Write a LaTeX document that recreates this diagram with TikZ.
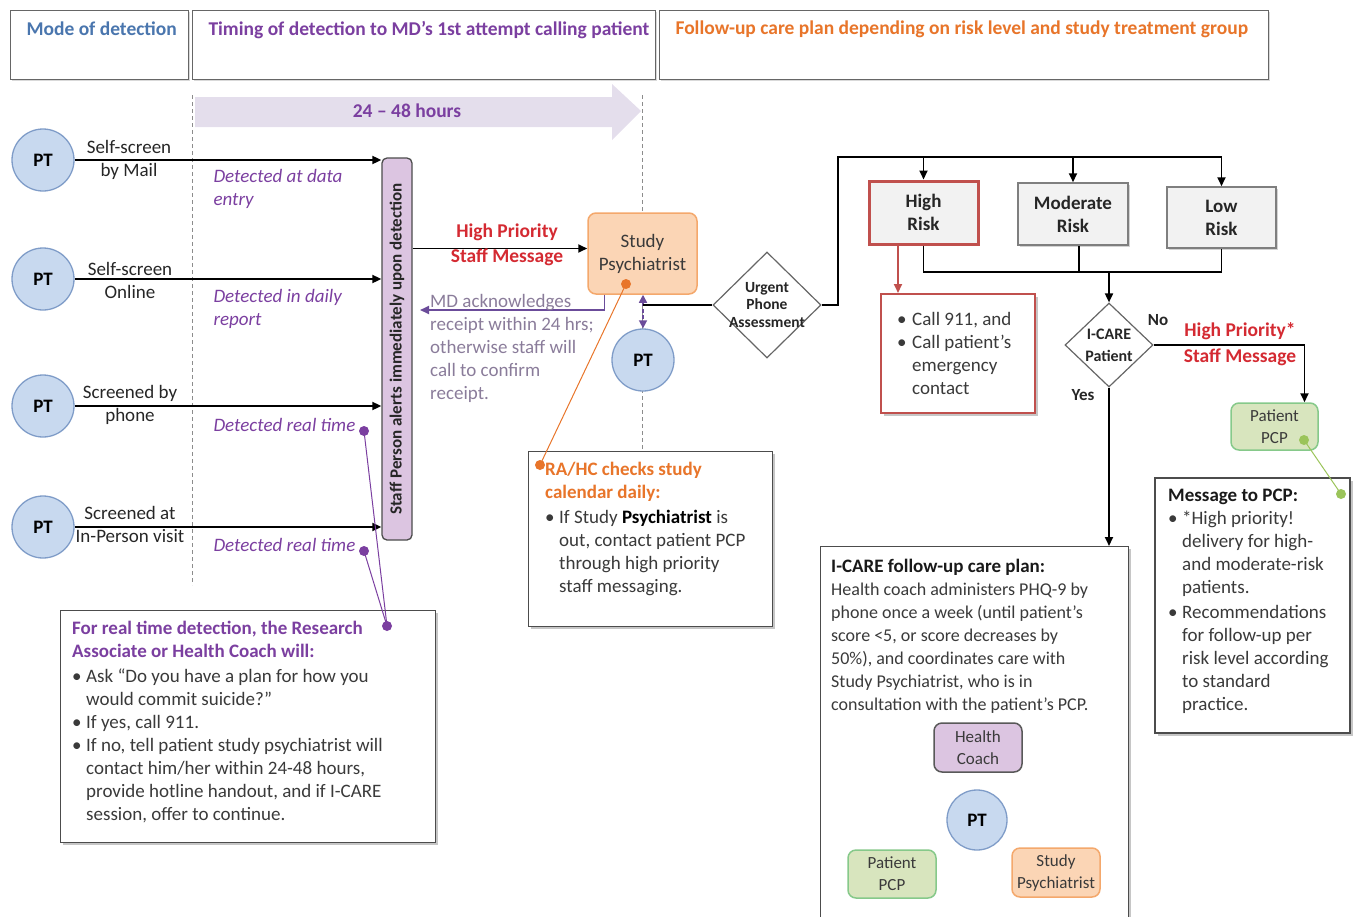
\documentclass[tikz,border=0pt]{standalone}
\usepackage{fontspec}
\setmainfont{Carlito}
\usetikzlibrary{arrows.meta,shapes.geometric,shadows,calc}
\definecolor{ptf}{HTML}{C8D9EF}
\definecolor{ptb}{HTML}{7F9CC8}
\definecolor{stf}{HTML}{DCC5E1}
\definecolor{spf}{HTML}{FBD5B5}
\definecolor{spb}{HTML}{F4A86C}
\definecolor{pcf}{HTML}{D8E5BE}
\definecolor{pcb}{HTML}{86C98A}
\definecolor{rkf}{HTML}{F2F2F2}
\definecolor{rkb}{HTML}{7F7F7F}
\definecolor{hrb}{HTML}{C0504D}
\definecolor{redt}{HTML}{D42A32}
\definecolor{purt}{HTML}{7B3FA0}
\definecolor{oran}{HTML}{E8752A}
\definecolor{bluet}{HTML}{4A76AE}
\definecolor{bandf}{HTML}{E4DEEC}
\definecolor{grpt}{HTML}{8A7C9A}
\definecolor{dotg}{HTML}{9BC45A}
\definecolor{ardk}{HTML}{6B4C9A}
\definecolor{bodyt}{HTML}{3A3A3A}
\newcommand\fsz[2]{\fontsize{#1}{#2}\selectfont}
\newcommand\bl[1]{\makebox[#1][l]{\textbullet}}
\newcommand\ind[1]{\hspace*{#1}}
\begin{document}
\begin{tikzpicture}[x=1pt,y=-1pt,
  every node/.style={font=\fsz{19}{23}, text=bodyt},
  pt/.style={circle, draw=ptb, line width=1.3pt, fill=ptf, minimum size=62pt, inner sep=0pt, font=\fsz{19}{22}\bfseries, text=black},
  box/.style={draw=black!70, line width=1.3pt, fill=white, drop shadow={shadow xshift=2.5pt, shadow yshift=-2.5pt, opacity=0.45}, inner sep=0pt},
  hdr/.style={draw=black!60, line width=1.2pt, fill=white, drop shadow={shadow xshift=1.5pt, shadow yshift=-1.5pt, opacity=0.3}, inner sep=0pt, anchor=north west},
  rbox/.style={rounded corners=8pt, line width=1.5pt, align=center, inner sep=0pt},
  risk/.style={draw=rkb, fill=rkf, line width=1.5pt, align=center, inner sep=0pt, font=\fsz{19}{23}\bfseries, text=black!85, drop shadow={shadow xshift=2pt, shadow yshift=-2pt, opacity=0.35}},
  diam/.style={diamond, aspect=1, draw=black!60, line width=1.2pt, fill=white, inner sep=0pt},
  dtext/.style={align=center, font=\fsz{15.5}{17.5}\bfseries, text=black!85},
  arr/.style={line width=1.8pt, -{Triangle[length=9pt,width=8pt]}},
  ln/.style={line width=1.8pt},
  lbl/.style={align=center, text=black!85},
  det/.style={font=\fsz{19}{23}\itshape, text=purt, align=left, anchor=west},
  txt/.style={align=left, anchor=west, inner sep=0pt},
  dot/.style={circle, inner sep=0pt, minimum size=10pt},
  vdash/.style={draw=black!45, line width=0.9pt, dash pattern=on 4pt off 3pt},
  hb/.style={font=\fsz{19.5}{22}\bfseries}
]
\useasboundingbox (0,0) rectangle (1355,916);

% ---------- header ----------
\node[hdr, minimum width=178pt, minimum height=69pt] (h1) at (10,10) {};
\node[hdr, minimum width=463pt, minimum height=69pt] (h2) at (192,10) {};
\node[hdr, minimum width=609pt, minimum height=69pt] (h3) at (659,10) {};
\node[anchor=west, hb, text=bluet] (ht1) at (23,29) {Mode of detection};
\node[anchor=west, hb, text=purt] (ht2) at (205,30) {Timing of detection to MD’s 1st attempt calling patient};
\node[anchor=west, hb, text=oran] (ht3) at (672,29) {Follow-up care plan depending on risk level and study treatment group};

% ---------- timeline band and dashed guides ----------
\fill[bandf] (195,97) -- (612,97) -- (612,84) -- (641,111) -- (612,140) -- (612,127) -- (195,127) -- cycle;
\node[hb, text=purt] (band) at (407,111) {24 -- 48 hours};
\coordinate (g1a) at (192,95); \coordinate (g1b) at (192,585);
\coordinate (g2a) at (642,95); \coordinate (g2b) at (642,450);
\draw[vdash] (g1a) -- (g1b);
\draw[vdash] (g2a) -- (g2b);

% ---------- patients ----------
\node[pt] (p1) at (43,160) {PT};
\node[pt] (p2) at (43,279) {PT};
\node[pt] (p3) at (43,406) {PT};
\node[pt] (p4) at (43,527) {PT};
\node[lbl] (l1) at (129,160) {Self-screen\\by Mail};
\node[lbl] (l2) at (130,280) {Self-screen\\Online};
\node[lbl] (l3) at (130,405) {Screened by\\phone};
\node[lbl] (l4) at (130,524) {Screened at\\In-Person visit};

% staff bar
\node[draw=black!70, fill=stf, line width=1.3pt, rounded corners=5pt, minimum width=30pt, minimum height=382pt, inner sep=0pt] (sb) at (397,349)
  {\rotatebox{90}{\fsz{17}{18}\bfseries\color{black!85}Staff Person alerts immediately upon detection}};

\draw[arr] (p1.east) -- (p1.east -| sb.west);
\draw[arr] (p2.east) -- (p2.east -| sb.west);
\draw[arr] (p3.east) -- (p3.east -| sb.west);
\draw[arr] (p4.east) -- (p4.east -| sb.west);

\node[det] (dt1) at (210,188.5) {Detected at data\\entry};
\node[det] (dt2) at (210,308.5) {Detected in daily\\report};
\node[det] (dt3) at (210,425) {Detected real time};
\node[det] (dt4) at (210,545) {Detected real time};

% real-time box
\node[box, minimum width=375pt, minimum height=232pt, anchor=north west] (rt) at (60,610) {};
\node[txt] (rtt) at (72,722.5) {%
\textcolor{purt}{\textbf{For real time detection, the Research}}\\
\textcolor{purt}{\textbf{Associate or Health Coach will:}}\\[2pt]
\bl{14pt}Ask “Do you have a plan for how you\\
\ind{14pt}would commit suicide?”\\
\bl{14pt}If yes, call 911.\\
\bl{14pt}If no, tell patient study psychiatrist will\\
\ind{14pt}contact him/her within 24-48 hours,\\
\ind{14pt}provide hotline handout, and if I-CARE\\
\ind{14pt}session, offer to continue.};
\node[dot, fill=purt] (d1) at (364,431) {};
\node[dot, fill=purt] (d2) at (364,551) {};
\node[dot, fill=purt] (d3) at (387,626) {};
\draw[purt, line width=1pt] (d1.center) -- (d3.center);
\draw[purt, line width=1pt] (d2.center) -- (d3.center);

% ---------- study psychiatrist ----------
\node[rbox, draw=spb, fill=spf, minimum width=109pt, minimum height=81pt] (sp) at (642.5,253.5) {Study\\Psychiatrist};
\draw[arr] ([yshift=5pt]sp.west -| sb.east) -- ([yshift=5pt]sp.west);
\node[hb, text=redt] (hp1) at (507,232) {High Priority};
\node[hb, text=redt] (hp2) at (507,257) {Staff Message};

\coordinate (mdend) at (420,310);
\draw[ardk, line width=1.8pt, -{Triangle[length=9pt,width=8pt]}] ([xshift=-38pt]sp.south) |- (mdend);
\node[txt, text=grpt] (md) at (430,348.5) {MD acknowledges\\receipt within 24 hrs;\\otherwise staff will\\call to confirm\\receipt.};

\node[pt] (p5) at (643,360) {PT};
\draw[ardk, line width=1.6pt, dash pattern=on 4pt off 2.5pt, {Triangle[length=8pt,width=8pt]}-{Triangle[length=8pt,width=8pt]}] ([xshift=0.5pt]sp.south) -- (p5.north);

% urgent phone assessment
\node[diam, minimum width=108pt, minimum height=106pt] (ud) at (767,305) {};
\node[dtext] (udt) at (ud.center) {Urgent\\Phone\\Assessment};
\draw[ln] ([xshift=0.5pt]sp.south |- ud.west) -- (ud.west);

% RA/HC box
\node[box, minimum width=244pt, minimum height=175pt, anchor=north west] (ra) at (528,451) {};
\node[txt] (rat) at (545,528.5) {%
\textcolor{oran}{\textbf{RA/HC checks study}}\\
\textcolor{oran}{\textbf{calendar daily:}}\\[2pt]
\bl{14pt}If Study \textbf{\color{black}Psychiatrist} is\\
\ind{14pt}out, contact patient PCP\\
\ind{14pt}through high priority\\
\ind{14pt}staff messaging.};
\node[dot, fill=oran] (o1) at (626,284) {};
\node[dot, fill=oran] (o2) at (540,465) {};
\draw[oran, line width=1pt] (o1.center) -- (o2.center);

% ---------- risk levels ----------
\node[risk, draw=hrb, line width=3pt, minimum width=109pt, minimum height=63pt] (hr) at (923.5,212.5) {High\\Risk};
\node[risk, minimum width=110pt, minimum height=62pt] (mr) at (1073,214) {Moderate\\Risk};
\node[risk, minimum width=109pt, minimum height=61pt] (lr) at (1221.5,217.5) {Low\\Risk};

\coordinate (topc) at (838,157);
\draw[ln] (ud.east) -| (topc) -- (topc -| lr.north);
\draw[arr] (topc -| hr.north) -- (hr.north);
\draw[arr] (topc -| mr.north) -- (mr.north);
\draw[arr] (topc -| lr.north) -- (lr.north);

\coordinate (midc) at (1109,272);
\draw[ln] (hr.south) |- (midc) -| (lr.south);
\draw[ln] ([xshift=6pt]mr.south) -- ([xshift=6pt]mr.south |- midc);

% call box
\node[box, draw=hrb, line width=2pt, minimum width=154pt, minimum height=119pt] (cb) at (958,353.5) {};
\node[txt] (cbt) at (897,353) {%
\bl{15pt}Call 911, and\\
\bl{15pt}Call patient’s\\
\ind{15pt}emergency\\
\ind{15pt}contact};
\draw[hrb, line width=1.8pt, -{Triangle[length=9pt,width=8pt]}] ([xshift=-25.5pt]hr.south) -- ([xshift=-25.5pt]hr.south |- cb.north);

% I-CARE decision
\node[diam, minimum width=88pt, minimum height=84pt] (ic) at (1109,345) {};
\node[dtext, font=\fsz{16}{22}\bfseries] (ict) at (ic.center) {I-CARE\\Patient};
\draw[arr] (midc) -- (ic.north);
\node[font=\fsz{17}{18}\bfseries, text=black!85] (no) at (1158,320) {No};
\node[font=\fsz{17}{18}\bfseries, text=black!85] (yes) at (1083,395) {Yes};
\node[hb, text=redt] (hp3) at (1240,331) {High Priority*};
\node[hb, text=redt] (hp4) at (1240,357) {Staff Message};

\node[rbox, draw=pcb, fill=pcf, minimum width=87pt, minimum height=47pt, font=\fsz{17}{22}] (pcp1) at (1274.5,426.5) {Patient\\PCP};
\draw[arr] (ic.east) -| ([xshift=30pt]pcp1.north);

% message to PCP
\node[box, minimum width=195pt, minimum height=255pt] (mb) at (1252.5,605.5) {};
\node[txt] (mbt) at (1168,601) {%
\textbf{\color{black!90}Message to PCP:}\\
\bl{14pt}*High priority!\\
\ind{14pt}delivery for high-\\
\ind{14pt}and moderate-risk\\
\ind{14pt}patients.\\[2pt]
\bl{14pt}Recommendations\\
\ind{14pt}for follow-up per\\
\ind{14pt}risk level according\\
\ind{14pt}to standard\\
\ind{14pt}practice.};
\node[dot, fill=dotg] (g1) at (1304,440) {};
\node[dot, fill=dotg] (g2) at (1341,494) {};
\draw[dotg, line width=1pt] (g1.center) -- (g2.center);

% I-CARE care plan
\node[box, minimum width=308pt, minimum height=390pt, anchor=north west] (cp) at (820,546) {};
\draw[arr] (ic.south) -- (ic.south |- cp.north);
\node[txt] (cpt) at (831,636) {%
\textbf{\color{black!90}I-CARE follow-up care plan:}\\
{\fsz{18}{23}Health coach administers PHQ-9 by}\\
{\fsz{18}{23}phone once a week (until patient’s}\\
{\fsz{18}{23}score <5, or score decreases by}\\
{\fsz{18}{23}50\%), and coordinates care with}\\
{\fsz{18}{23}Study Psychiatrist, who is in}\\
{\fsz{18}{23}consultation with the patient’s PCP.}};
\node[rbox, draw=black!65, fill=stf, minimum width=88pt, minimum height=49pt, font=\fsz{17}{22}] (hc) at (978,747.5) {Health\\Coach};
\node[pt, minimum size=60pt] (p6) at (977,820) {PT};
\node[rbox, draw=pcb, fill=pcf, minimum width=88pt, minimum height=48pt, font=\fsz{17}{22}] (pcp2) at (892,874) {Patient\\PCP};
\node[rbox, draw=spb, fill=spf, minimum width=88pt, minimum height=49pt, font=\fsz{17}{22}] (sp2) at (1056,872.5) {Study\\Psychiatrist};

\end{tikzpicture}
\end{document}
